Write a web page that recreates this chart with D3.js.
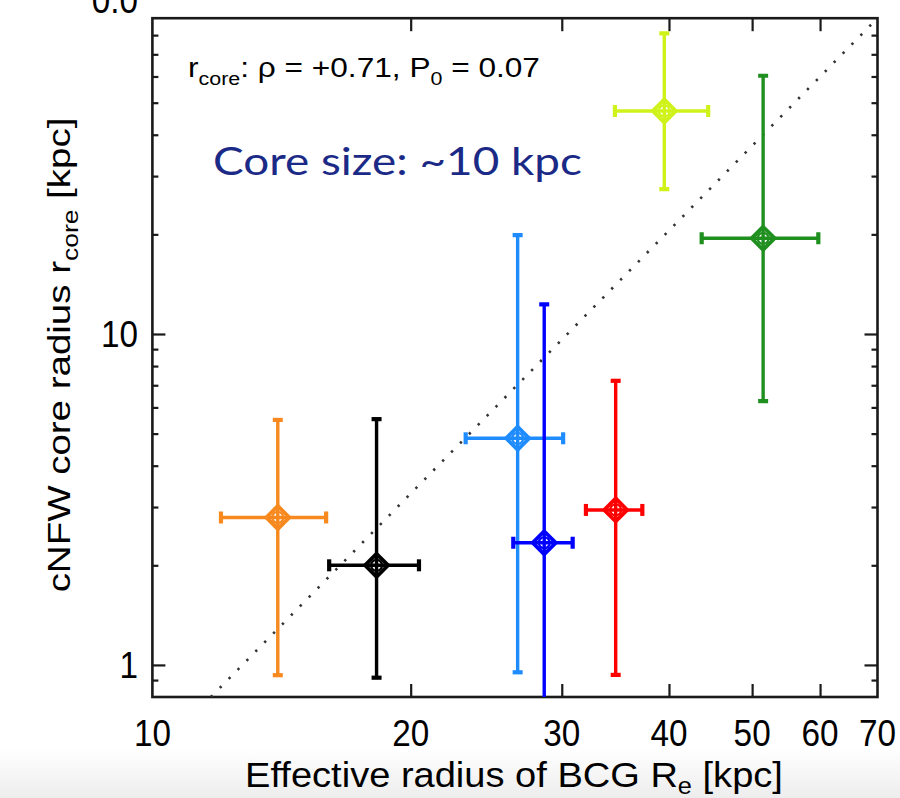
<!DOCTYPE html>
<html>
<head>
<meta charset="utf-8">
<script src="https://cdn.jsdelivr.net/npm/d3@7/dist/d3.min.js"></script>
<style>
  html, body { margin: 0; padding: 0; background: #fff; }
  svg { display: block; }
  text { font-family: "Liberation Sans", Arial, Helvetica, sans-serif; fill: #000; }
</style>
</head>
<body>
<svg id="chart" width="900" height="798"></svg>
<script>
// Cluster BCG sample: effective radius vs cNFW core radius (kpc)
const clusters  = ["A", "B", "C", "D", "E", "F", "G"];
const colors    = ["#f7891f", "#000000", "#1e8cff", "#0000ff", "#ff0000", "#cff21a", "#1f8f1f"];
const reX       = [14.0, 18.25, 26.65, 28.62, 34.67, 39.5, 51.5];   // R_e
const reLo      = [12.02, 16.07, 23.18, 26.34, 32.01, 34.6, 43.67];
const reHi      = [15.94, 20.45, 30.11, 30.89, 37.24, 44.44, 59.72];
const rcore     = [2.79, 2.0, 4.84, 2.34, 2.94, 47.2, 19.46];      // r_core
const rcoreLo   = [0.931, 0.915, 0.95, 0.6, 0.933, 27.4, 6.27];
const rcoreHi   = [5.50, 5.53, 19.9, 12.29, 7.22, 81.0, 60.3];

// power-law trend line, two end points (R_e, r_core)
const trendX    = [11.7, 70];
const trendY    = [0.8, 90];

const xDomain   = [10, 70];
const yDomain   = [0.8, 90];
const xTickVals = [20, 30, 40, 50, 60];
const xLabels   = [10, 20, 30, 40, 50, 60, 70];
const yMajor    = [1, 10];
const yMinor    = [0.9, 2, 3, 4, 5, 6, 7, 8, 9, 20, 30, 40, 50, 60, 70, 80];
const yLabels   = ["1", "10"];

const svg = d3.select("#chart");
const W = 900, H = 798;
const plot = { left: 152.4, right: 877.5, top: 18.2, bottom: 697 };

const x = d3.scaleLog().domain(xDomain).range([plot.left, plot.right]);
const y = d3.scaleLog().domain(yDomain).range([plot.bottom, plot.top]);

// soft grey fade along the lower edge of the page
const defs = svg.append("defs");
const grad = defs.append("linearGradient").attr("id", "fade")
  .attr("x1", 0).attr("y1", 0).attr("x2", 0).attr("y2", 1);
grad.append("stop").attr("offset", "0%").attr("stop-color", "#ffffff");
grad.append("stop").attr("offset", "100%").attr("stop-color", "#ededed");
svg.append("rect").attr("x", 0).attr("y", 748).attr("width", W).attr("height", H - 748)
  .attr("fill", "url(#fade)");

defs.append("clipPath").attr("id", "plotclip").append("rect")
  .attr("x", plot.left).attr("y", plot.top)
  .attr("width", plot.right - plot.left).attr("height", plot.bottom - plot.top);

// horizontally condensed text helper
function ctext(parent, px, py, anchor, size, sx, rot) {
  const g = parent.append("g")
    .attr("transform", `translate(${px},${py}) rotate(${rot || 0}) scale(${sx},1)`);
  const t = g.append("text").attr("text-anchor", anchor).attr("font-size", size);
  return { g, t };
}
function fitTo(obj, target, px, py, rot) {
  const w = obj.t.node().getComputedTextLength();
  const sx = target / w;
  obj.g.attr("transform", `translate(${px},${py}) rotate(${rot || 0}) scale(${sx},1)`);
}

// ---- axes: inward ticks on all four sides
const tickStyle = g => {
  g.select(".domain").remove();
  g.selectAll("line").attr("stroke", "#1a1a1a").attr("stroke-width", 2.2);
};
svg.append("g").attr("transform", `translate(0,${plot.bottom})`)
  .call(d3.axisBottom(x).tickValues(xTickVals).tickSize(-13).tickFormat(""))
  .call(tickStyle);
svg.append("g").attr("transform", `translate(0,${plot.top})`)
  .call(d3.axisTop(x).tickValues(xTickVals).tickSize(-13).tickFormat(""))
  .call(tickStyle);
svg.append("g").attr("transform", `translate(${plot.left},0)`)
  .call(d3.axisLeft(y).tickValues(yMajor).tickSize(-13).tickFormat(""))
  .call(tickStyle);
svg.append("g").attr("transform", `translate(${plot.left},0)`)
  .call(d3.axisLeft(y).tickValues(yMinor).tickSize(-6).tickFormat(""))
  .call(tickStyle);
svg.append("g").attr("transform", `translate(${plot.right},0)`)
  .call(d3.axisRight(y).tickValues(yMajor).tickSize(-13).tickFormat(""))
  .call(tickStyle);
svg.append("g").attr("transform", `translate(${plot.right},0)`)
  .call(d3.axisRight(y).tickValues(yMinor).tickSize(-6).tickFormat(""))
  .call(tickStyle);

// frame
svg.append("rect")
  .attr("x", plot.left).attr("y", plot.top)
  .attr("width", plot.right - plot.left).attr("height", plot.bottom - plot.top)
  .attr("fill", "none").attr("stroke", "#1a1a1a").attr("stroke-width", 2.6);

// tick labels
xLabels.forEach(v => {
  const o = ctext(svg, x(v), 746, "middle", 37, 0.9);
  o.t.text(v);
});
yMajor.forEach((v, i) => {
  const o = ctext(svg, 138, y(v) + 13, "end", 37, 0.9);
  o.t.text(yLabels[i]);
});
// top label, partly above the page edge
ctext(svg, 138, 13, "end", 37, 0.9).t.text("0.0");

// axis titles
const xt = ctext(svg, 514, 787, "middle", 36, 1);
xt.t.append("tspan").text("Effective radius of BCG R");
xt.t.append("tspan").attr("font-size", 24).attr("dy", 7).text("e");
xt.t.append("tspan").attr("dy", -7).text(" [kpc]");
fitTo(xt, 538, 514, 787);

const yt = ctext(svg, 70, 355, "middle", 32, 1, -90);
yt.t.append("tspan").text("cNFW core radius r");
yt.t.append("tspan").attr("font-size", 22).attr("dy", 8).text("core");
yt.t.append("tspan").attr("dy", -8).text(" [kpc]");
fitTo(yt, 475, 70, 355, -90);

// ---- trend line
const plotG = svg.append("g").attr("clip-path", "url(#plotclip)");
plotG.append("path")
  .datum(d3.zip(trendX, trendY))
  .attr("d", d3.line().x(d => x(d[0])).y(d => y(d[1])))
  .attr("fill", "none").attr("stroke", "#333").attr("stroke-width", 2.6)
  .attr("stroke-dasharray", "2.4,10.3").attr("stroke-linecap", "butt");

// ---- points with error bars
const pts = clusters.map((c, i) => ({
  c, col: colors[i], x: reX[i], xl: reLo[i], xh: reHi[i],
  y: rcore[i], yl: rcoreLo[i], yh: rcoreHi[i]
}));

const capHalf = 5, capW = 4.2, lw = 3.4, dm = 11.5;
pts.forEach(p => {
  const g = plotG.append("g").attr("stroke", p.col).attr("fill", "none");
  const cx = x(p.x), cy = y(p.y);
  // vertical bar
  g.append("line").attr("x1", cx).attr("x2", cx).attr("y1", y(p.yl)).attr("y2", y(p.yh))
    .attr("stroke-width", lw);
  // horizontal bar
  g.append("line").attr("x1", x(p.xl)).attr("x2", x(p.xh)).attr("y1", cy).attr("y2", cy)
    .attr("stroke-width", lw);
  // caps
  [y(p.yl), y(p.yh)].forEach(yy => g.append("line")
    .attr("x1", cx - capHalf).attr("x2", cx + capHalf).attr("y1", yy).attr("y2", yy)
    .attr("stroke-width", capW));
  [x(p.xl), x(p.xh)].forEach(xx => g.append("line")
    .attr("x1", xx).attr("x2", xx).attr("y1", cy - capHalf - 1).attr("y2", cy + capHalf + 1)
    .attr("stroke-width", capW));
  // diamond marker with inner ring
  g.append("path")
    .attr("d", `M${cx},${cy - dm}L${cx + dm},${cy}L${cx},${cy + dm}L${cx - dm},${cy}Z`)
    .attr("stroke-width", 3.8).attr("stroke-linejoin", "miter");
  g.append("circle").attr("cx", cx).attr("cy", cy).attr("r", 5.5).attr("stroke-width", 2.2);
});

// ---- annotations
const ann = ctext(svg, 188, 77, "start", 28, 1);
ann.t.append("tspan").text("r");
ann.t.append("tspan").attr("font-size", 19).attr("dy", 8).text("core");
ann.t.append("tspan").attr("dy", -8).text(": ρ = +0.71, P");
ann.t.append("tspan").attr("font-size", 19).attr("dy", 8).text("0");
ann.t.append("tspan").attr("dy", -8).text(" = 0.07");
fitTo(ann, 352, 188, 77);

const core = ctext(svg, 213, 175, "start", 38, 1);
core.t.style("font-family", "Lato, 'Open Sans', sans-serif").style("fill", "#1b2a86")
  .text("Core size: ~10 kpc");
fitTo(core, 369, 213, 175);
</script>
</body>
</html>
